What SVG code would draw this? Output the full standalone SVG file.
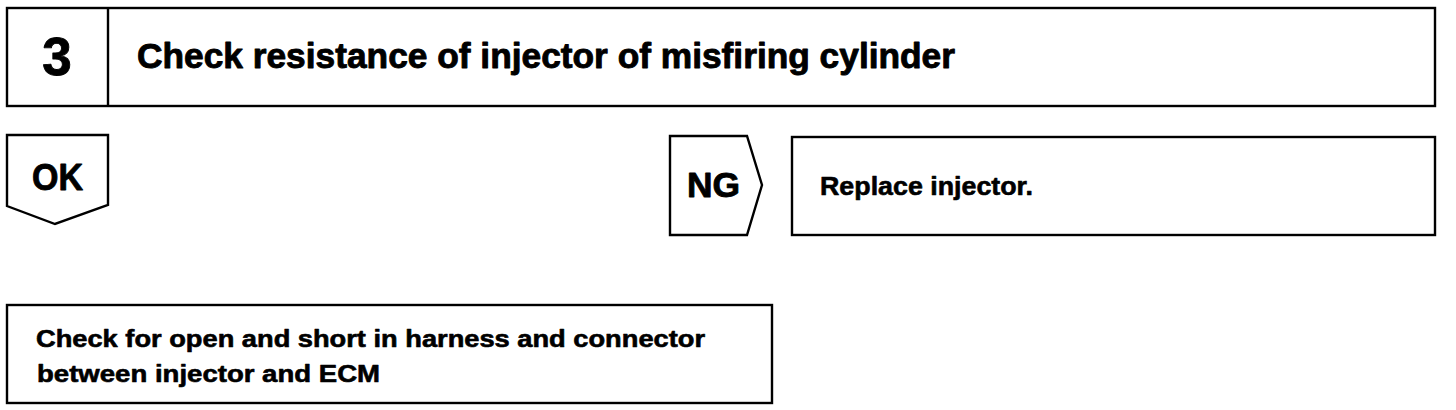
<svg xmlns="http://www.w3.org/2000/svg" width="1456" height="410" viewBox="0 0 1456 410">
  <style>
    .box { fill: #ffffff; stroke: #000000; stroke-width: 2.4; }
    .t { font-family: "Liberation Sans", Arial, sans-serif; font-weight: bold; fill: #000000; stroke: #000000; stroke-width: 0.9; stroke-linejoin: round; }
    .s { stroke-width: 0.6; }
  </style>
  <rect x="0" y="0" width="1456" height="410" fill="#ffffff"/>
  <g id="step-header">
    <rect class="box" x="7" y="8" width="1428" height="98"/>
    <line class="box" x1="108" y1="8" x2="108" y2="106"/>
    <text class="t" x="57" y="75" font-size="53" text-anchor="middle">3</text>
    <text class="t" x="137" y="68" font-size="35" textLength="818" lengthAdjust="spacingAndGlyphs">Check resistance of injector of misfiring cylinder</text>
  </g>
  <g id="ok-tag">
    <polygon class="box" points="7,135 108,135 108,205 55,224 7,206"/>
    <text class="t" x="57.5" y="190" font-size="36" text-anchor="middle" textLength="51" lengthAdjust="spacingAndGlyphs">OK</text>
  </g>
  <g id="ng-tag">
    <polygon class="box" points="670,136 747,136 762,185 747,235 670,235"/>
    <text class="t" x="713.5" y="197" font-size="35" text-anchor="middle" textLength="53" lengthAdjust="spacingAndGlyphs">NG</text>
  </g>
  <g id="replace-injector">
    <rect class="box" x="792" y="137" width="643" height="98"/>
    <text class="t s" x="820" y="195" font-size="26" textLength="213" lengthAdjust="spacingAndGlyphs">Replace injector.</text>
  </g>
  <g id="check-harness">
    <rect class="box" x="7" y="305" width="765" height="98"/>
    <text class="t s" x="36" y="347" font-size="23.5" textLength="669" lengthAdjust="spacingAndGlyphs">Check for open and short in harness and connector</text>
    <text class="t s" x="37" y="382" font-size="23.5" textLength="343" lengthAdjust="spacingAndGlyphs">between injector and ECM</text>
  </g>
  <g id="connectors"></g>
</svg>
